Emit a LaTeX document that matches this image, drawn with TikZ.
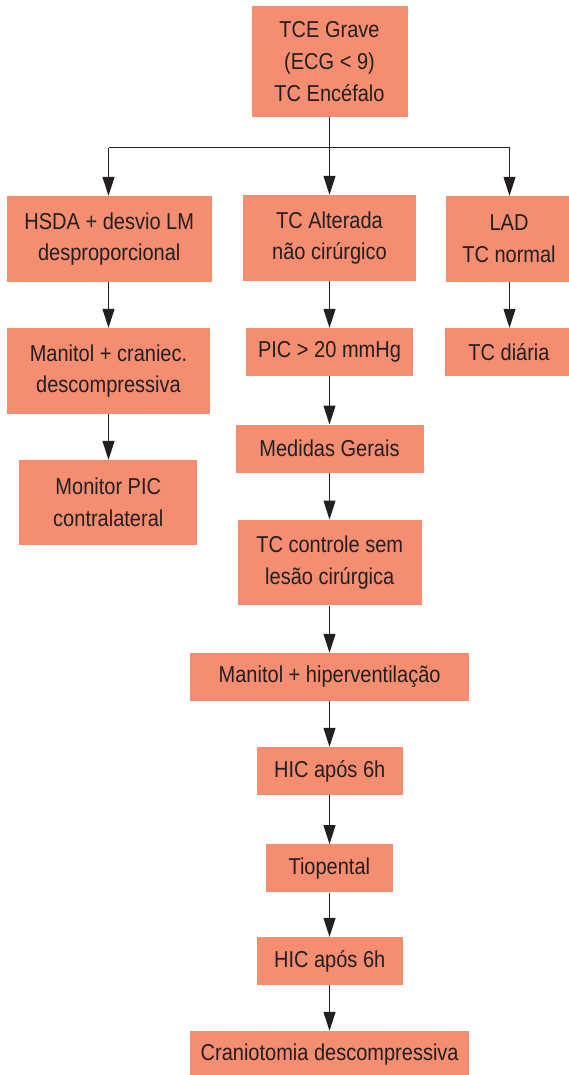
\documentclass[tikz,border=0pt]{standalone}
\usepackage{fontspec}
\setmainfont{Liberation Sans}[FakeStretch=0.87]
\usetikzlibrary{arrows.meta}
\definecolor{boxfill}{RGB}{245,141,112}
\definecolor{ink}{RGB}{35,31,32}
\begin{document}
\begin{tikzpicture}[x=1pt,y=-1pt,
  box/.style={fill=boxfill, draw=none, inner sep=0pt, align=center, text=ink,
    font=\fontsize{23}{31.7}\selectfont},
  link/.style={draw=ink, line width=1pt},
  arr/.style={link, -{Triangle[width=12pt,length=19pt]}}]
\useasboundingbox (0,0) rectangle (569,1075);
\begin{scope}
\clip (0,0) rectangle (569,1075);
\node[box, minimum width=156pt, minimum height=111pt] (top) at (329.5,61.5) {TCE Grave\\(ECG < 9)\\TC Encéfalo};
\node[box, minimum width=205.5pt, minimum height=86pt] (hsda) at (109.25,239) {HSDA + desvio LM\\desproporcional};
\node[box, minimum width=173pt, minimum height=86pt] (tcalt) at (329.5,238) {TC Alterada\\não cirúrgico};
\node[box, minimum width=126pt, minimum height=86pt] (lad) at (509,239) {LAD\\TC normal};
\node[box, minimum width=202.4pt, minimum height=86pt] (manc) at (108.5,371) {Manitol + craniec.\\descompressiva};
\node[box, minimum width=178pt, minimum height=85pt] (monitor) at (108.3,502.5) {Monitor PIC\\contralateral};
\node[box, minimum width=167pt, minimum height=48pt] (pic) at (329.5,352) {PIC > 20 mmHg};
\node[box, minimum width=129pt, minimum height=48pt] (tcd) at (509,352) {TC diária};
\node[box, minimum width=188pt, minimum height=48pt] (med) at (329.5,448.7) {Medidas Gerais};
\node[box, minimum width=184.5pt, minimum height=85.6pt] (tcc) at (329.75,562.5) {TC controle sem\\lesão cirúrgica};
\node[box, minimum width=279.3pt, minimum height=48pt] (manh) at (329.65,677) {Manitol + hiperventilação};
\node[box, minimum width=146pt, minimum height=48pt] (hic1) at (329.7,771) {HIC após 6h};
\node[box, minimum width=126.7pt, minimum height=48pt] (tio) at (329.3,868.3) {Tiopental};
\node[box, minimum width=146pt, minimum height=48pt] (hic2) at (329.7,961) {HIC após 6h};
\node[box, minimum width=279.3pt, minimum height=48pt] (cran) at (329.65,1055) {Craniotomia descompressiva};

\coordinate (split) at (329.5,148);
\coordinate (splitL) at (108.5,148);
\coordinate (splitR) at (509.5,148);
\draw[link] (top.south) -- (split);
\draw[link] (splitL) -- (splitR);
\draw[arr] (splitL) -- (splitL |- hsda.north);
\draw[arr] (split) -- (tcalt.north);
\draw[arr] (splitR) -- (splitR |- lad.north);

\draw[arr] (hsda.south -| splitL) -- (manc.north -| splitL);
\draw[arr] (manc.south -| splitL) -- (monitor.north -| splitL);

\draw[arr] (tcalt.south) -- (pic.north);
\draw[arr] (pic.south) -- (med.north);
\draw[arr] (med.south) -- (tcc.north -| med.south);
\draw[arr] (tcc.south -| med.south) -- (manh.north -| med.south);
\draw[arr] (manh.south -| med.south) -- (hic1.north -| med.south);
\draw[arr] (hic1.south -| med.south) -- (tio.north -| med.south);
\draw[arr] (tio.south -| med.south) -- (hic2.north -| med.south);
\draw[arr] (hic2.south -| med.south) -- (cran.north -| med.south);

\draw[arr] (lad.south -| splitR) -- (tcd.north -| splitR);
\end{scope}
\end{tikzpicture}
\end{document}
